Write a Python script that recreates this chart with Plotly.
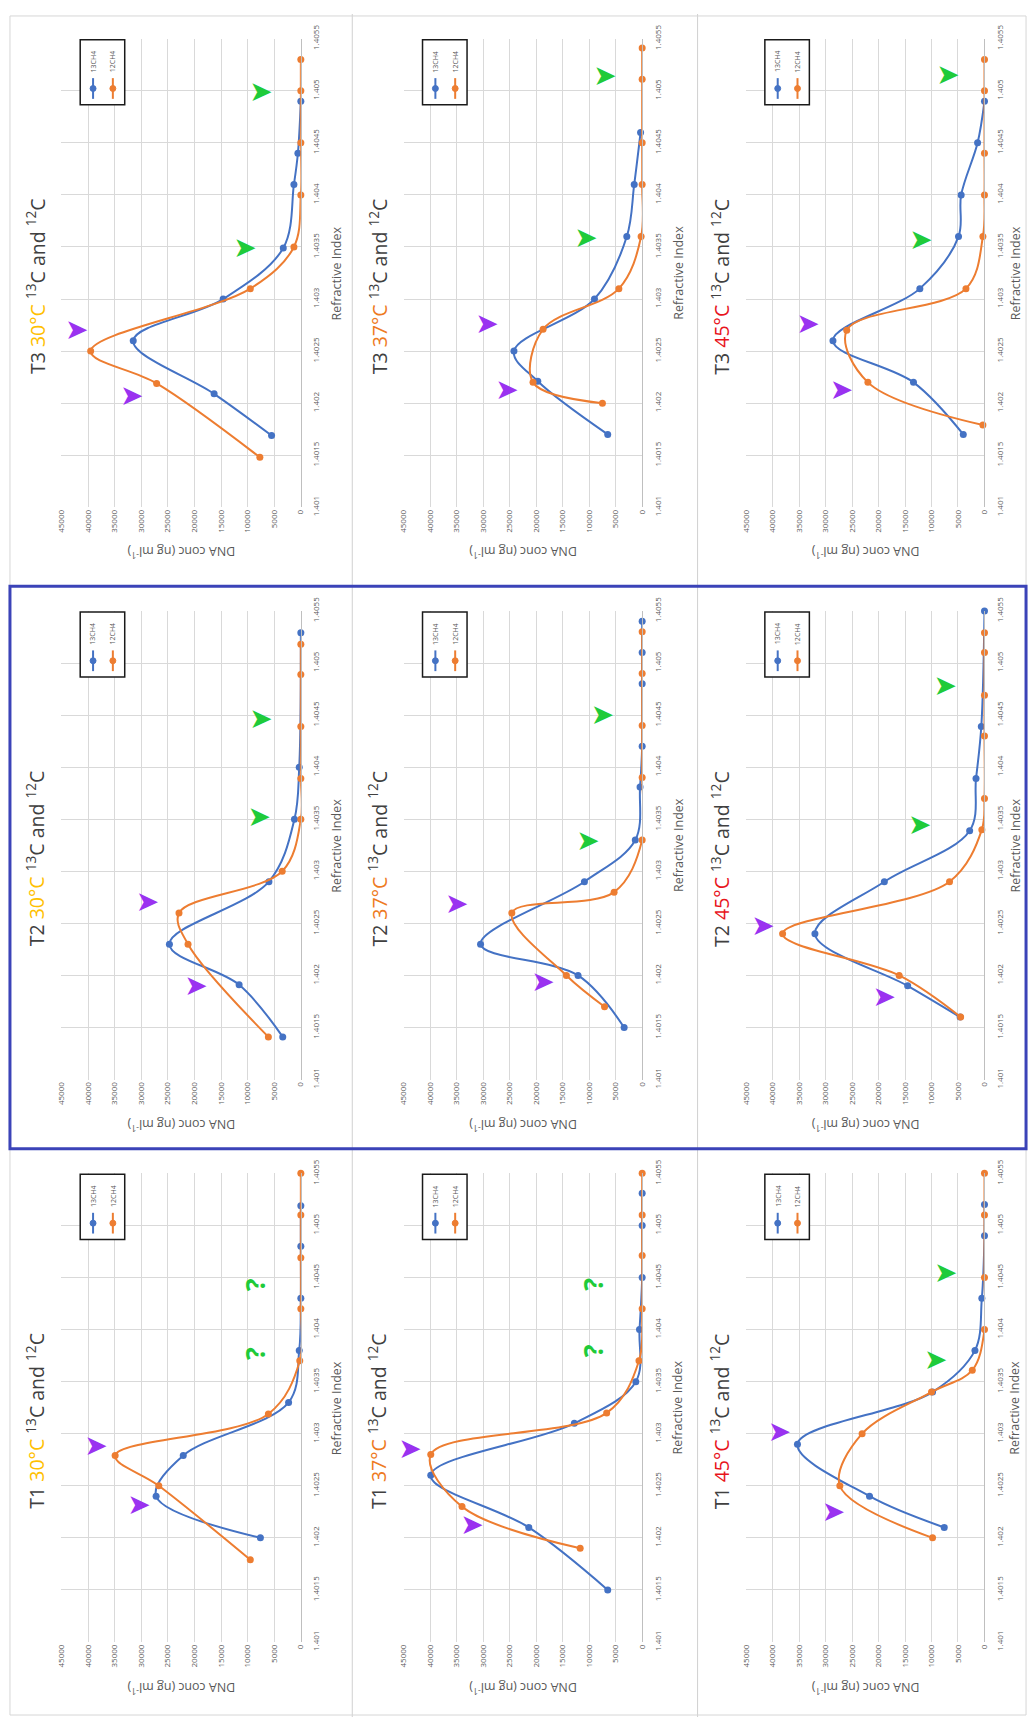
import plotly.graph_objects as go

# ---------------- data ----------------
RI_TICKS = [1.401, 1.4015, 1.402, 1.4025, 1.403, 1.4035, 1.404, 1.4045, 1.405, 1.4055]
RI_TICK_LABELS = ["1.401", "1.4015", "1.402", "1.4025", "1.403", "1.4035", "1.404", "1.4045", "1.405", "1.4055"]
CONC_TICKS = [0, 5000, 10000, 15000, 20000, 25000, 30000, 35000, 40000, 45000]
CONC_TICK_LABELS = ["0", "5000", "10000", "15000", "20000", "25000", "30000", "35000", "40000", "45000"]
SERIES_NAMES = ["13CH4", "12CH4"]
TRIALS = ["T3", "T2", "T1"]
TEMPS = ["30°C", "37°C", "45°C"]

# T3 30°C
t3_30_ri_13 = [1.40169, 1.40209, 1.40260, 1.40300, 1.40349, 1.40410, 1.40440, 1.40490]
t3_30_conc_13 = [5500, 16300, 31500, 14600, 3300, 1300, 550, 0]
t3_30_ri_12 = [1.40148, 1.40219, 1.40250, 1.40310, 1.40350, 1.40400, 1.40450, 1.40500, 1.40530]
t3_30_conc_12 = [7700, 27100, 39500, 9500, 1300, 0, 0, 0, 0]
t3_30_purple_ri = [1.40268, 1.40205]
t3_30_purple_conc = [42100, 31800]
t3_30_green_ri = [1.40497, 1.40347]
t3_30_green_conc = [7500, 10500]

# T3 37°C
t3_37_ri_13 = [1.40170, 1.40221, 1.40250, 1.40300, 1.40360, 1.40410, 1.40460]
t3_37_conc_13 = [6500, 19700, 24200, 9000, 2900, 1500, 300]
t3_37_ri_12 = [1.40200, 1.40220, 1.40271, 1.40310, 1.40360, 1.40410, 1.40450, 1.40511, 1.40541]
t3_37_conc_12 = [7500, 20600, 18700, 4400, 200, 0, 0, 0, 0]
t3_37_purple_ri = [1.40274, 1.40211]
t3_37_purple_conc = [29300, 25500]
t3_37_green_ri = [1.40512, 1.40357]
t3_37_green_conc = [7000, 10600]

# T3 45°C
t3_45_ri_13 = [1.40170, 1.40220, 1.40260, 1.40310, 1.40360, 1.40400, 1.40450, 1.40490]
t3_45_conc_13 = [4000, 13400, 28600, 12200, 4900, 4400, 1300, 0]
t3_45_ri_12 = [1.40179, 1.40220, 1.40270, 1.40310, 1.40360, 1.40400, 1.40440, 1.40500, 1.40530]
t3_45_conc_12 = [300, 22000, 26000, 3500, 300, 0, 0, 0, 0]
t3_45_purple_ri = [1.40274, 1.40211]
t3_45_purple_conc = [33300, 27000]
t3_45_green_ri = [1.40513, 1.40355]
t3_45_green_conc = [6900, 12000]

# T2 30°C
t2_30_ri_13 = [1.40141, 1.40191, 1.40230, 1.40290, 1.40350, 1.40400, 1.40529]
t2_30_conc_13 = [3400, 11600, 24700, 6000, 1200, 300, 0]
t2_30_ri_12 = [1.40141, 1.40230, 1.40260, 1.40300, 1.40350, 1.40389, 1.40439, 1.40489, 1.40518]
t2_30_conc_12 = [6100, 21200, 22900, 3500, 0, 0, 0, 0, 0]
t2_30_purple_ri = [1.40269, 1.40188]
t2_30_purple_conc = [28800, 19700]
t2_30_green_ri = [1.40444, 1.40350]
t2_30_green_conc = [7500, 7800]

# T2 37°C
t2_37_ri_13 = [1.40150, 1.40200, 1.40230, 1.40290, 1.40330, 1.40381, 1.40420, 1.40480, 1.40510, 1.40540]
t2_37_conc_13 = [3400, 12100, 30500, 10900, 1300, 400, 0, 0, 0, 0]
t2_37_ri_12 = [1.40170, 1.40200, 1.40260, 1.40280, 1.40330, 1.40390, 1.40440, 1.40490, 1.40530]
t2_37_conc_12 = [7100, 14300, 24600, 5300, 0, 0, 0, 0, 0]
t2_37_purple_ri = [1.40267, 1.40192]
t2_37_purple_conc = [35000, 18700]
t2_37_green_ri = [1.40448, 1.40327]
t2_37_green_conc = [7500, 10200]

# T2 45°C
t2_45_ri_13 = [1.40160, 1.40190, 1.40240, 1.40290, 1.40339, 1.40389, 1.40439, 1.40550]
t2_45_conc_13 = [4600, 14500, 32000, 18900, 2800, 1600, 600, 0]
t2_45_ri_12 = [1.40160, 1.40200, 1.40240, 1.40290, 1.40340, 1.40370, 1.40430, 1.40469, 1.40510, 1.40529]
t2_45_conc_12 = [4500, 16100, 38100, 6600, 500, 0, 0, 0, 0, 0]
t2_45_purple_ri = [1.40246, 1.40177]
t2_45_purple_conc = [41800, 18900]
t2_45_green_ri = [1.40476, 1.40343]
t2_45_green_conc = [7400, 12200]

# T1 30°C
t1_30_ri_13 = [1.40200, 1.40240, 1.40279, 1.40330, 1.40380, 1.40430, 1.40480, 1.40519]
t1_30_conc_13 = [7600, 27200, 22100, 2300, 300, 0, 0, 0]
t1_30_ri_12 = [1.40179, 1.40250, 1.40279, 1.40319, 1.40370, 1.40420, 1.40469, 1.40510, 1.40550]
t1_30_conc_12 = [9500, 26700, 34900, 6100, 200, 0, 0, 0, 0]
t1_30_purple_ri = [1.40286, 1.40230]
t1_30_purple_conc = [38500, 30400]
t1_30_question_ri = [1.40443, 1.40377]
t1_30_question_conc = [8700, 8700]

# T1 37°C
t1_37_ri_13 = [1.40150, 1.40210, 1.40260, 1.40310, 1.40350, 1.40400, 1.40450, 1.40500, 1.40531]
t1_37_conc_13 = [6500, 21400, 39900, 12800, 1200, 500, 0, 0, 0]
t1_37_ri_12 = [1.40190, 1.40230, 1.40280, 1.40320, 1.40370, 1.40420, 1.40471, 1.40510, 1.40550]
t1_37_conc_12 = [11700, 34000, 39900, 6700, 600, 0, 0, 0, 0]
t1_37_purple_ri = [1.40283, 1.40210]
t1_37_purple_conc = [43800, 32100]
t1_37_question_ri = [1.40444, 1.40380]
t1_37_question_conc = [9300, 9300]

# T1 45°C
t1_45_ri_13 = [1.40210, 1.40240, 1.40290, 1.40340, 1.40380, 1.40430, 1.40490, 1.40520]
t1_45_conc_13 = [7600, 21700, 35300, 9800, 1800, 500, 0, 0]
t1_45_ri_12 = [1.40200, 1.40250, 1.40300, 1.40340, 1.40361, 1.40400, 1.40450, 1.40510, 1.40550]
t1_45_conc_12 = [9800, 27300, 23100, 10000, 2300, 0, 0, 0, 0]
t1_45_purple_ri = [1.40300, 1.40223]
t1_45_purple_conc = [38700, 28500]
t1_45_green_ri = [1.40452, 1.40369]
t1_45_green_conc = [7300, 9200]

# panel table built from the named lists (row = trial, col = temperature)
PANELS = [
    [dict(ri13=t3_30_ri_13, c13=t3_30_conc_13, ri12=t3_30_ri_12, c12=t3_30_conc_12,
          pri=t3_30_purple_ri, pc=t3_30_purple_conc, gri=t3_30_green_ri, gc=t3_30_green_conc),
     dict(ri13=t3_37_ri_13, c13=t3_37_conc_13, ri12=t3_37_ri_12, c12=t3_37_conc_12,
          pri=t3_37_purple_ri, pc=t3_37_purple_conc, gri=t3_37_green_ri, gc=t3_37_green_conc),
     dict(ri13=t3_45_ri_13, c13=t3_45_conc_13, ri12=t3_45_ri_12, c12=t3_45_conc_12,
          pri=t3_45_purple_ri, pc=t3_45_purple_conc, gri=t3_45_green_ri, gc=t3_45_green_conc)],
    [dict(ri13=t2_30_ri_13, c13=t2_30_conc_13, ri12=t2_30_ri_12, c12=t2_30_conc_12,
          pri=t2_30_purple_ri, pc=t2_30_purple_conc, gri=t2_30_green_ri, gc=t2_30_green_conc),
     dict(ri13=t2_37_ri_13, c13=t2_37_conc_13, ri12=t2_37_ri_12, c12=t2_37_conc_12,
          pri=t2_37_purple_ri, pc=t2_37_purple_conc, gri=t2_37_green_ri, gc=t2_37_green_conc),
     dict(ri13=t2_45_ri_13, c13=t2_45_conc_13, ri12=t2_45_ri_12, c12=t2_45_conc_12,
          pri=t2_45_purple_ri, pc=t2_45_purple_conc, gri=t2_45_green_ri, gc=t2_45_green_conc)],
    [dict(ri13=t1_30_ri_13, c13=t1_30_conc_13, ri12=t1_30_ri_12, c12=t1_30_conc_12,
          pri=t1_30_purple_ri, pc=t1_30_purple_conc, qri=t1_30_question_ri, qc=t1_30_question_conc),
     dict(ri13=t1_37_ri_13, c13=t1_37_conc_13, ri12=t1_37_ri_12, c12=t1_37_conc_12,
          pri=t1_37_purple_ri, pc=t1_37_purple_conc, qri=t1_37_question_ri, qc=t1_37_question_conc),
     dict(ri13=t1_45_ri_13, c13=t1_45_conc_13, ri12=t1_45_ri_12, c12=t1_45_conc_12,
          pri=t1_45_purple_ri, pc=t1_45_purple_conc, gri=t1_45_green_ri, gc=t1_45_green_conc)],
]

# ---------------- style / layout ----------------
W, H = 1035, 1726
BLUE = "#4472C4"
ORANGE = "#ED7D31"
PURPLE = "#9A32F0"
GREEN = "#1FCB3A"
TEMP_COLORS = ["#FFC000", "#EE7A22", "#E8141C"]
GRID = "#D9D9D9"
TXT = "#595959"
FONT = "Open Sans"

ROW_TOP = [0, 580, 1150]
PLOT_LEFT = [56, 402, 748]
PLOT_RIGHT = [298, 643, 989]
AXIS_TITLE_GAP = [36, 36, 31]
PLOT_T, PLOT_B = 25, 500


def px(x):
    return x / W


def py(y):
    return 1 - y / H


fig = go.Figure()
annotations = []
shapes = []

for r in range(3):
    for c in range(3):
        k = r * 3 + c + 1
        xa = "x" if k == 1 else f"x{k}"
        ya = "y" if k == 1 else f"y{k}"
        L, R = PLOT_LEFT[c], PLOT_RIGHT[c]
        T, B = ROW_TOP[r] + PLOT_T, ROW_TOP[r] + PLOT_B
        p = PANELS[r][c]

        fig.update_layout(**{
            f"xaxis{'' if k == 1 else k}": dict(
                domain=[px(L), px(R)], anchor=ya, range=[45000.5, -0.5],
                tickmode="array", tickvals=CONC_TICKS, ticktext=CONC_TICK_LABELS,
                tickangle=-90, tickfont=dict(family=FONT, size=8, color=TXT),
                showgrid=True, gridcolor=GRID, gridwidth=1, zeroline=False,
                showline=False, ticks="", fixedrange=True),
            f"yaxis{'' if k == 1 else k}": dict(
                domain=[py(B), py(T)], anchor=xa, side="right",
                range=[1.401 - 1e-7, 1.4055 + 1e-7],
                tickmode="array", tickvals=RI_TICKS, ticktext=RI_TICK_LABELS,
                tickangle=-90, tickfont=dict(family=FONT, size=8, color=TXT),
                ticklabelstandoff=8,
                showgrid=True, gridcolor=GRID, gridwidth=1, zeroline=False,
                showline=True, linecolor="#BFBFBF", linewidth=1, ticks="",
                fixedrange=True),
        })

        for ri, cc, col, name in [(p["ri13"], p["c13"], BLUE, SERIES_NAMES[0]),
                                  (p["ri12"], p["c12"], ORANGE, SERIES_NAMES[1])]:
            fig.add_trace(go.Scatter(
                x=cc, y=ri, xaxis=xa, yaxis=ya, mode="lines+markers", name=name,
                line=dict(color=col, width=2, shape="spline", smoothing=1.0),
                marker=dict(color=col, size=7), cliponaxis=False, showlegend=False))

        # purple arrowheads
        fig.add_trace(go.Scatter(
            x=p["pc"], y=p["pri"], xaxis=xa, yaxis=ya, mode="text", text=["➤"] * len(p["pc"]),
            textfont=dict(family="DejaVu Sans", size=28, color=PURPLE),
            textposition="middle center", showlegend=False, cliponaxis=False))
        if "gc" in p:
            fig.add_trace(go.Scatter(
                x=p["gc"], y=p["gri"], xaxis=xa, yaxis=ya, mode="text", text=["➤"] * len(p["gc"]),
                textfont=dict(family="DejaVu Sans", size=28, color=GREEN),
                textposition="middle center", showlegend=False, cliponaxis=False))
        if "qc" in p:
            for qc, qri in zip(p["qc"], p["qri"]):
                annotations.append(dict(
                    x=qc, y=qri, xref=xa, yref=ya, text="<b>?</b>", showarrow=False,
                    textangle=-90, font=dict(family=FONT, size=27, color=GREEN)))

        # title
        title = (f"{TRIALS[r]} <span style='color:{TEMP_COLORS[c]}'>{TEMPS[c]}</span> "
                 f"<sup>13</sup>C and <sup>12</sup>C")
        annotations.append(dict(
            x=px(L - 26), y=py(ROW_TOP[r] + 276), xref="paper", yref="paper",
            text=title, showarrow=False, textangle=-90, xanchor="center", yanchor="middle",
            font=dict(family=FONT, size=19.5, color="#404040")))
        # axis titles
        annotations.append(dict(
            x=px(R + AXIS_TITLE_GAP[c]), y=py((T + B) / 2), xref="paper", yref="paper",
            text="Refractive Index", showarrow=False, textangle=-90,
            xanchor="center", yanchor="middle", font=dict(family=FONT, size=12.5, color=TXT)))
        annotations.append(dict(
            x=px((L + R) / 2), y=py(ROW_TOP[r] + 546), xref="paper", yref="paper",
            text="DNA conc (ng ml<sup>-1</sup>)", showarrow=False, textangle=180,
            xanchor="center", yanchor="middle", font=dict(family=FONT, size=12.5, color=TXT)))

        # legend (rotated, drawn manually)
        shapes.append(dict(type="rect", xref="paper", yref="paper",
                           x0=px(L + 19), x1=px(L + 64), y0=py(T + 1), y1=py(T + 67),
                           line=dict(color="#1A1A1A", width=1.5), fillcolor="white", layer="above"))
        for j, col in enumerate([BLUE, ORANGE]):
            lx = L + 32 + 20 * j
            shapes.append(dict(type="line", xref="paper", yref="paper",
                               x0=px(lx), x1=px(lx), y0=py(T + 40), y1=py(T + 61),
                               line=dict(color=col, width=2), layer="above"))
            shapes.append(dict(type="circle", xref="paper", yref="paper",
                               x0=px(lx - 3), x1=px(lx + 3), y0=py(T + 47.5), y1=py(T + 53.5),
                               line=dict(color=col, width=1), fillcolor=col, layer="above"))
            annotations.append(dict(
                x=px(lx), y=py(T + 23), xref="paper", yref="paper", text=SERIES_NAMES[j],
                showarrow=False, textangle=-90, xanchor="center", yanchor="middle",
                font=dict(family=FONT, size=7, color=TXT)))

# panel separators and highlighted T2 row
for xs in [350, 699]:
    shapes.append(dict(type="line", xref="paper", yref="paper", x0=px(xs), x1=px(xs),
                       y0=0, y1=1, line=dict(color="#D0D0D0", width=1), layer="below"))
shapes.append(dict(type="rect", xref="paper", yref="paper", x0=px(4), x1=px(1031),
                   y0=py(1724), y1=py(2), line=dict(color="#D6D6D6", width=1), layer="below"))
shapes.append(dict(type="rect", xref="paper", yref="paper", x0=px(4), x1=px(1031),
                   y0=py(1150), y1=py(580), line=dict(color="#3B43B8", width=3), layer="above"))

fig.update_layout(
    width=W, height=H, margin=dict(l=0, r=0, t=0, b=0),
    paper_bgcolor="white", plot_bgcolor="white",
    showlegend=False, annotations=annotations, shapes=shapes,
    font=dict(family=FONT, color=TXT),
)

fig.write_html("out.html", config={"displayModeBar": False},
               post_script="document.body.style.margin='0px';document.body.style.overflow='hidden';")
